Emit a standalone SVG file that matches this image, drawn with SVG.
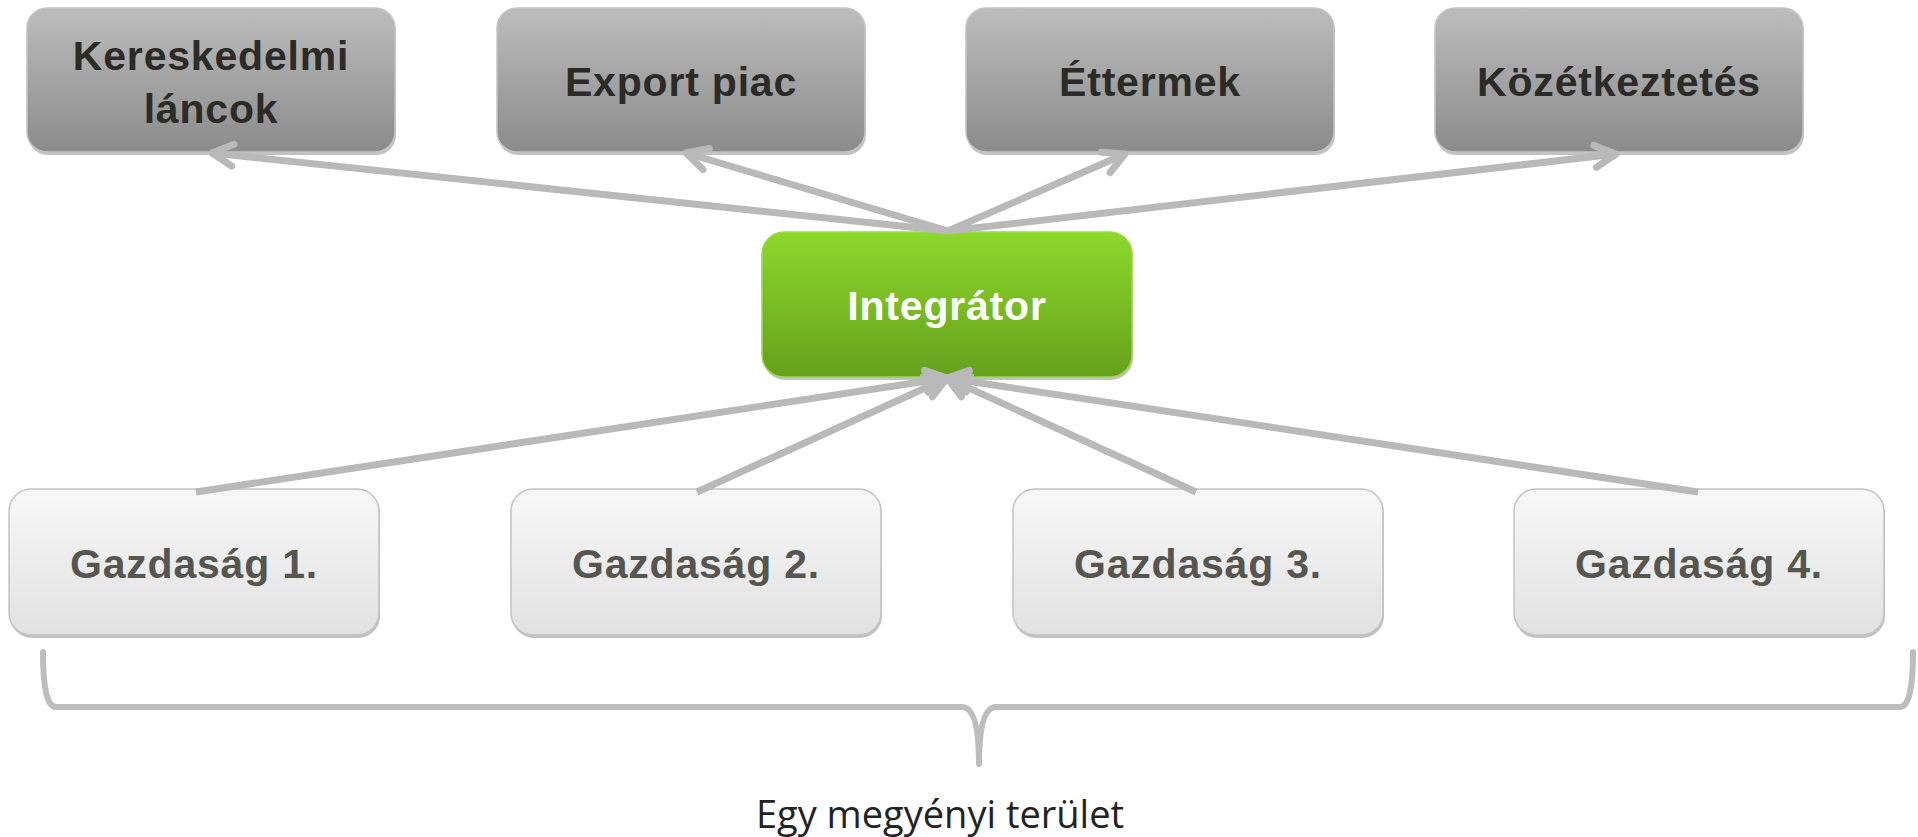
<svg xmlns="http://www.w3.org/2000/svg" width="1918" height="837" viewBox="0 0 1918 837">
<defs>
<linearGradient id="gTop" x1="0" y1="0" x2="0" y2="1"><stop offset="0" stop-color="#bcbcbc"/><stop offset="1" stop-color="#8b8b8b"/></linearGradient>
<linearGradient id="gGreen" x1="0" y1="0" x2="0" y2="1"><stop offset="0" stop-color="#8cd82a"/><stop offset="1" stop-color="#66a01c"/></linearGradient>
<linearGradient id="gBot" x1="0" y1="0" x2="0" y2="1"><stop offset="0" stop-color="#f7f7f7"/><stop offset="1" stop-color="#e1e1e1"/></linearGradient>
<marker id="arr" markerUnits="userSpaceOnUse" markerWidth="32" markerHeight="32" viewBox="-26 -16 32 32" refX="0" refY="0" orient="auto">
<path d="M-21,-11 L0,0 L-21,11" fill="none" stroke="#b9b9b9" stroke-width="7" stroke-linecap="round" stroke-linejoin="round"/>
</marker>
</defs>
<style>
.shadow{fill:#a8a8a8;opacity:0.7}
.top{fill:url(#gTop);stroke:#c4c4c4;stroke-width:1.5}
.green{fill:url(#gGreen);stroke:#9ed84a;stroke-width:1.5}
.bot{fill:url(#gBot);stroke:#c2c2c2;stroke-width:1.5}
.lbl{font-family:"Liberation Sans",Arial,sans-serif;font-weight:bold;font-size:41px;letter-spacing:0.8px;text-anchor:middle}
.dark{fill:#2b2b28}
.gray{fill:#565650}
.white{fill:#ffffff}
.conn{stroke:#b9b9b9;stroke-width:7;fill:none;stroke-linecap:butt}
.brace{stroke:#bdbdbd;stroke-width:6;fill:none;stroke-linecap:round;stroke-linejoin:round}
.cap{font-family:"Open Sans","Noto Sans",sans-serif;font-size:38px;fill:#222;text-anchor:middle}
</style>

<g id="n-kereskedelmi">
<rect class="shadow" x="28" y="11" width="368" height="144" rx="20"/>
<rect class="top" x="27" y="8" width="368" height="144" rx="20"/>
<text class="lbl dark" x="211" y="70">Kereskedelmi</text>
<text class="lbl dark" x="211" y="123">láncok</text>
</g>
<g id="n-export">
<rect class="shadow" x="498" y="11" width="368" height="144" rx="20"/>
<rect class="top" x="497" y="8" width="368" height="144" rx="20"/>
<text class="lbl dark" x="681" y="96">Export piac</text>
</g>
<g id="n-ettermek">
<rect class="shadow" x="967" y="11" width="368" height="144" rx="20"/>
<rect class="top" x="966" y="8" width="368" height="144" rx="20"/>
<text class="lbl dark" x="1150" y="96">Éttermek</text>
</g>
<g id="n-kozetkeztetes">
<rect class="shadow" x="1436" y="11" width="368" height="144" rx="20"/>
<rect class="top" x="1435" y="8" width="368" height="144" rx="20"/>
<text class="lbl dark" x="1619" y="96">Közétkeztetés</text>
</g>

<g id="n-integrator">
<rect class="shadow" x="763" y="235" width="370" height="145" rx="22"/>
<rect class="green" x="762" y="232" width="370" height="145" rx="22"/>
<text class="lbl white" x="947" y="320">Integrátor</text>
</g>

<g id="n-g1">
<rect class="shadow" x="10" y="492" width="370" height="146" rx="22"/>
<rect class="bot" x="9" y="489" width="370" height="146" rx="22"/>
<text class="lbl gray" x="194" y="578">Gazdaság 1.</text>
</g>
<g id="n-g2">
<rect class="shadow" x="512" y="492" width="370" height="146" rx="22"/>
<rect class="bot" x="511" y="489" width="370" height="146" rx="22"/>
<text class="lbl gray" x="696" y="578">Gazdaság 2.</text>
</g>
<g id="n-g3">
<rect class="shadow" x="1014" y="492" width="370" height="146" rx="22"/>
<rect class="bot" x="1013" y="489" width="370" height="146" rx="22"/>
<text class="lbl gray" x="1198" y="578">Gazdaság 3.</text>
</g>
<g id="n-g4">
<rect class="shadow" x="1515" y="492" width="370" height="146" rx="22"/>
<rect class="bot" x="1514" y="489" width="370" height="146" rx="22"/>
<text class="lbl gray" x="1699" y="578">Gazdaság 4.</text>
</g>

<g id="connectors">
<line class="conn" x1="948" y1="231" x2="212" y2="153" marker-end="url(#arr)"/>
<line class="conn" x1="948" y1="231" x2="686" y2="153" marker-end="url(#arr)"/>
<line class="conn" x1="948" y1="231" x2="1125" y2="154" marker-end="url(#arr)"/>
<line class="conn" x1="948" y1="231" x2="1616" y2="154" marker-end="url(#arr)"/>
<line class="conn" x1="196" y1="492" x2="947" y2="378" marker-end="url(#arr)"/>
<line class="conn" x1="697" y1="492" x2="947" y2="378" marker-end="url(#arr)"/>
<line class="conn" x1="1196" y1="492" x2="947" y2="378" marker-end="url(#arr)"/>
<line class="conn" x1="1698" y1="492" x2="947" y2="378" marker-end="url(#arr)"/>
</g>

<g id="brace">
<path class="brace" d="M43,652 Q43,707 56,707 L962,707 Q979,707 979,764 Q979,707 996,707 L1900,707 Q1913,707 1913,652"/>
</g>
<text id="caption" class="cap" x="940" y="828">Egy megyényi terület</text>
</svg>
